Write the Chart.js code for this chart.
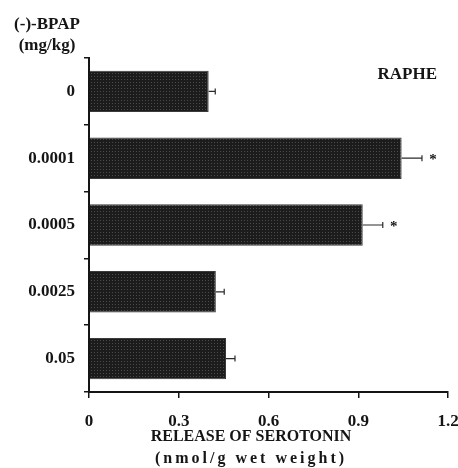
<!DOCTYPE html>
<html>
<head>
<meta charset="utf-8">
<script src="https://cdn.jsdelivr.net/npm/chart.js@4/dist/chart.umd.min.js"></script>
<style>
  html, body { margin: 0; padding: 0; background: #fff; }
  #wrap { width: 458px; height: 468px; }
</style>
</head>
<body>
<div id="wrap"><canvas id="c" width="458" height="468"></canvas></div>
<script>
// (-)-BPAP dose groups and serotonin release (mean ± SEM)
const doses = ['0', '0.0001', '0.0005', '0.0025', '0.05'];
const release = [0.40, 1.045, 0.915, 0.424, 0.458];
const sem = [0.022, 0.068, 0.067, 0.028, 0.030];
const significant = [false, true, true, false, false];
const xTickValues = [0, 0.3, 0.6, 0.9, 1.2];
const xTickLabels = ['0', '0.3', '0.6', '0.9', '1.2'];

const SERIF = "'Liberation Serif', 'Times New Roman', serif";
const INK = '#151515';

// Dark stippled fill for the bars
function stipple() {
  const t = document.createElement('canvas');
  t.width = 3; t.height = 3;
  const g = t.getContext('2d');
  g.fillStyle = '#1c1c1c';
  g.fillRect(0, 0, 3, 3);
  g.fillStyle = '#4a4a4a';
  g.fillRect(1, 1, 1, 1);
  return g.createPattern(t, 'repeat');
}

// Error bars and significance marks
const errorBars = {
  id: 'errorBars',
  afterDatasetsDraw(chart) {
    const ctx = chart.ctx;
    const xs = chart.scales.x;
    const meta = chart.getDatasetMeta(0);
    ctx.save();
    ctx.strokeStyle = '#2a2a2a';
    ctx.lineWidth = 1.2;
    meta.data.forEach((bar, i) => {
      const x0 = xs.getPixelForValue(release[i]);
      const x1 = xs.getPixelForValue(release[i] + sem[i]);
      const y = bar.y;
      ctx.beginPath();
      ctx.moveTo(x0, y);
      ctx.lineTo(x1, y);
      ctx.moveTo(x1, y - 3);
      ctx.lineTo(x1, y + 3);
      ctx.stroke();
      if (significant[i]) {
        ctx.fillStyle = INK;
        ctx.font = 'bold 15px ' + SERIF;
        ctx.textAlign = 'center';
        ctx.textBaseline = 'middle';
        ctx.fillText('*', x1 + 11, y + 2);
      }
    });
    ctx.restore();
  }
};

// Panel label, dose unit heading and x-axis title
const annotations = {
  id: 'annotations',
  afterDraw(chart) {
    const ctx = chart.ctx;
    const a = chart.chartArea;
    ctx.save();
    ctx.fillStyle = INK;
    ctx.textBaseline = 'middle';
    ctx.textAlign = 'center';
    ctx.font = 'bold 17px ' + SERIF;
    ctx.fillText('(-)-BPAP', a.left - 42, a.top - 33);
    ctx.fillText('(mg/kg)', a.left - 42, a.top - 12);
    ctx.textAlign = 'right';
    ctx.fillText('RAPHE', a.right - 11, a.top + 17);
    ctx.textAlign = 'center';
    const cx = a.left + 162;
    ctx.font = 'bold 16px ' + SERIF;
    ctx.fillText('RELEASE OF SEROTONIN', cx, a.bottom + 45);
    ctx.letterSpacing = '3px';
    ctx.fillText('(nmol/g wet weight)', cx, a.bottom + 67);
    ctx.restore();
  }
};

new Chart(document.getElementById('c'), {
  type: 'bar',
  data: {
    labels: doses,
    datasets: [{
      data: release,
      backgroundColor: stipple(),
      borderColor: '#3a3a3a',
      borderWidth: 1,
      barPercentage: 0.62,
      categoryPercentage: 1.0
    }]
  },
  options: {
    indexAxis: 'y',
    responsive: false,
    animation: false,
    devicePixelRatio: 1,
    layout: { padding: { top: 58, right: 10, left: 0, bottom: 0 } },
    plugins: {
      legend: { display: false },
      tooltip: { enabled: false }
    },
    scales: {
      x: {
        type: 'linear',
        min: 0,
        max: 1.2,
        afterBuildTicks(scale) {
          scale.ticks = xTickValues.map(v => ({ value: v }));
        },
        afterFit(scale) {
          scale.height = 76;
          scale.paddingLeft = 0;
          scale.paddingRight = 0;
        },
        ticks: {
          color: INK,
          font: { family: SERIF, size: 17, weight: 'bold' },
          padding: 13,
          maxRotation: 0,
          autoSkip: false,
          callback: (v, i) => xTickLabels[i]
        },
        grid: {
          drawOnChartArea: false,
          drawTicks: true,
          tickLength: 6,
          color: INK,
          lineWidth: 1.5
        },
        border: { display: true, color: INK, width: 2 }
      },
      y: {
        type: 'category',
        offset: true,
        afterFit(scale) {
          scale.width = 89;
          scale.paddingTop = 0;
          scale.paddingBottom = 0;
        },
        ticks: {
          color: INK,
          font: { family: SERIF, size: 17, weight: 'bold' },
          padding: 9
        },
        grid: {
          offset: true,
          drawOnChartArea: false,
          drawTicks: true,
          tickLength: 5,
          color: INK,
          lineWidth: 1.5
        },
        border: { display: true, color: INK, width: 2 }
      }
    }
  },
  plugins: [errorBars, annotations]
});
</script>
</body>
</html>
